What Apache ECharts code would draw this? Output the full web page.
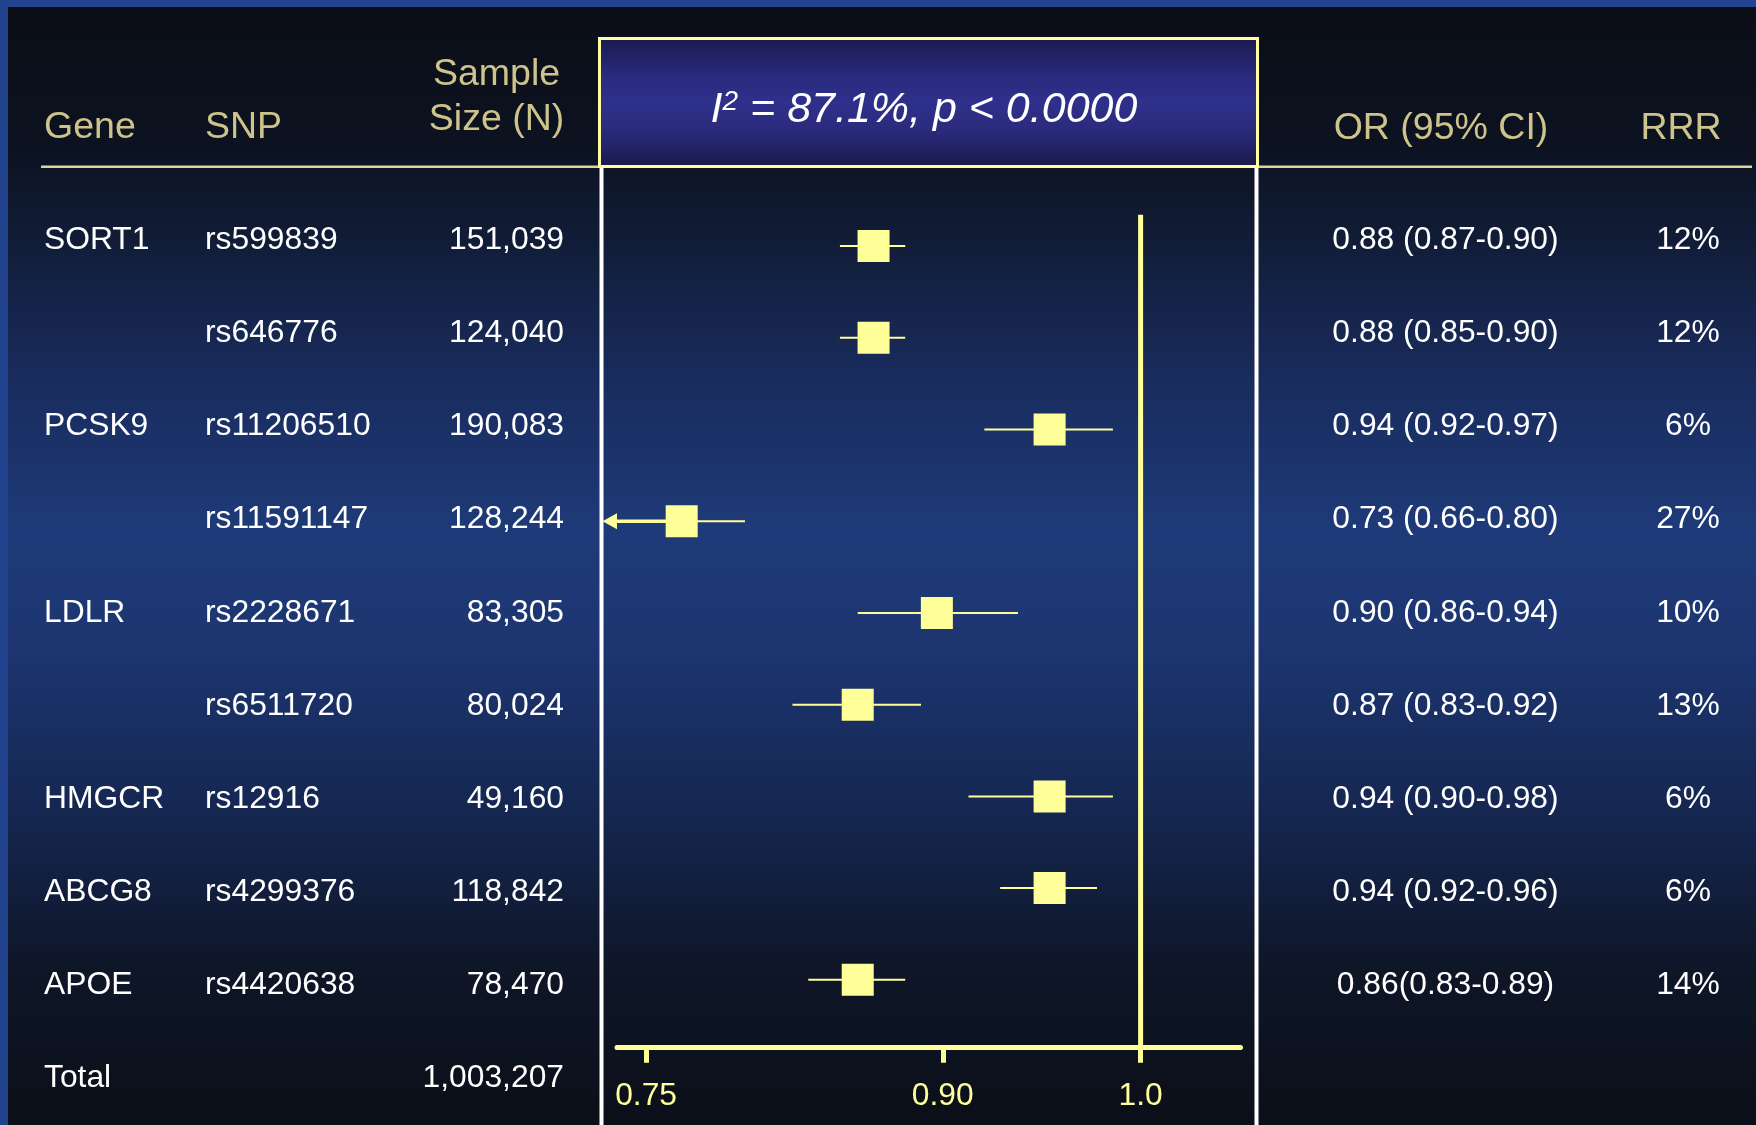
<!DOCTYPE html>
<html>
<head>
<meta charset="utf-8">
<script src="https://cdn.jsdelivr.net/npm/echarts@6/dist/echarts.min.js"></script>
<style>
html,body{margin:0;padding:0;background:#0b0f18;}
#c{width:1756px;height:1125px;}
</style>
</head>
<body>
<div id="c"></div>
<script>
// ---------------- data ----------------
const genes = ['SORT1', '', 'PCSK9', '', 'LDLR', '', 'HMGCR', 'ABCG8', 'APOE', 'Total'];
const snps = ['rs599839', 'rs646776', 'rs11206510', 'rs11591147', 'rs2228671', 'rs6511720', 'rs12916', 'rs4299376', 'rs4420638', ''];
const sampleSizes = [151039, 124040, 190083, 128244, 83305, 80024, 49160, 118842, 78470, 1003207];
const orLabels = ['0.88 (0.87-0.90)', '0.88 (0.85-0.90)', '0.94 (0.92-0.97)', '0.73 (0.66-0.80)', '0.90 (0.86-0.94)',
                  '0.87 (0.83-0.92)', '0.94 (0.90-0.98)', '0.94 (0.92-0.96)', '0.86(0.83-0.89)', ''];
const rrrValues = [12, 12, 6, 27, 10, 13, 6, 6, 14];
// plotted positions of the squares / whiskers
const plotEst  = [0.865, 0.865, 0.954, 0.768, 0.897, 0.857, 0.954, 0.954, 0.857];
const plotLow  = [0.848, 0.848, 0.921, 0.728, 0.857, 0.824, 0.913, 0.929, 0.832];
const plotHigh = [0.881, 0.881, 0.986, 0.800, 0.938, 0.889, 0.986, 0.978, 0.881];
const xTicks = [0.75, 0.90, 1.0];
const xTickLabels = ['0.75', '0.90', '1.0'];
const refValue = 1.0;
const headerTitles = ['Gene', 'SNP', 'Sample', 'Size (N)', 'OR (95% CI)', 'RRR'];
const statText = ' = 87.1%, p < 0.0000';

// ---------------- layout / style ----------------
const FONT = 'Liberation Sans, Arial, sans-serif';
const ROW_TOP = 193.7, ROW_H = 93.66, N_ROWS = 10;     // table rows
const MARK_TOP = 246, MARK_H = 91.73;                   // forest rows (first row centre, spacing)
const AXIS_Y = 1046.8;
const X_MIN = 0.7353, X_MAX = 1.0505;
const Y_MIN = -(MARK_TOP - ROW_TOP) / MARK_H;
const Y_MAX = Y_MIN + (AXIS_Y - ROW_TOP) / MARK_H;
const YEL = '#ffff99';
const TAN = '#cdc38b';
const BODY_FS = 31.8;
const HEAD_FS = 37.5;

const chart = echarts.init(document.getElementById('c'), null, {renderer: 'canvas'});

// table column definitions (anchor x, alignment, text getter)
const columns = [
  {x: 44,    align: 'left',   text: i => genes[i]},
  {x: 205,   align: 'left',   text: i => snps[i]},
  {x: 564,   align: 'right',  text: i => sampleSizes[i].toLocaleString('en-US')},
  {x: 1445.5,align: 'center', text: i => orLabels[i]},
  {x: 1688,  align: 'center', text: i => (i < rrrValues.length ? rrrValues[i] + '%' : '')}
];

const rowIdx = genes.map((_, i) => String(i));

const grids = [{left: 617, top: ROW_TOP, width: 1240.5 - 617, height: AXIS_Y - ROW_TOP}];
const xAxes = [{
  gridIndex: 0, type: 'value', min: X_MIN, max: X_MAX,
  axisLine: {show: true, onZero: false, lineStyle: {color: YEL, width: 5}},
  axisTick: {show: true, customValues: xTicks, length: 16, lineStyle: {color: YEL, width: 5}},
  axisLabel: {show: true, customValues: xTicks, margin: 33, color: YEL, fontSize: BODY_FS, fontFamily: FONT,
              formatter: v => { const k = xTicks.findIndex(t => Math.abs(t - v) < 1e-6); return k >= 0 ? xTickLabels[k] : ''; }},
  splitLine: {show: false}
}];
const yAxes = [{gridIndex: 0, type: 'value', inverse: true, min: Y_MIN, max: Y_MAX, show: false}];

columns.forEach((c, k) => {
  grids.push({left: c.x, top: ROW_TOP, width: 1, height: ROW_H * N_ROWS});
  xAxes.push({gridIndex: k + 1, type: 'value', show: false});
  yAxes.push({
    gridIndex: k + 1, type: 'category', inverse: true, data: rowIdx, position: 'left',
    axisLine: {show: false}, axisTick: {show: false}, splitLine: {show: false},
    axisLabel: {show: true, interval: 0, margin: 0, align: c.align, color: '#ffffff',
                fontSize: BODY_FS, fontFamily: FONT, formatter: (v, i) => c.text(i)}
  });
});

const forestData = plotEst.map((e, i) => [e, plotLow[i], plotHigh[i], i]);

const headText = (t, x, y, align) => ({type: 'text', z: 10, x, y,
  style: {text: t, fill: TAN, fontSize: HEAD_FS, fontFamily: FONT, align, verticalAlign: 'middle'}});

const option = {
  animation: false,
  backgroundColor: 'transparent',
  grid: grids,
  xAxis: xAxes,
  yAxis: yAxes,
  graphic: [
    {type: 'rect', z: -100, shape: {x: 0, y: 0, width: 1756, height: 1125},
     style: {fill: new echarts.graphic.LinearGradient(0, 0, 0, 1, [
       {offset: 0, color: '#0b0e17'}, {offset: 0.13, color: '#0c1220'}, {offset: 0.2, color: '#101b33'},
       {offset: 0.34, color: '#192c5e'}, {offset: 0.47, color: '#1e3a78'}, {offset: 0.57, color: '#1d3672'},
       {offset: 0.72, color: '#152751'}, {offset: 0.86, color: '#0e1628'}, {offset: 1, color: '#0b0f18'}])}},
    {type: 'rect', z: -90, shape: {x: 0, y: 0, width: 1756, height: 7}, style: {fill: '#22438f'}},
    {type: 'rect', z: -90, shape: {x: 0, y: 0, width: 8, height: 1125}, style: {fill: '#21428d'}},
    // header rule
    {type: 'line', z: 5, shape: {x1: 41, y1: 166.7, x2: 1752, y2: 166.7}, style: {stroke: '#dcd5a0', lineWidth: 2.5}},
    // panel white side lines
    {type: 'line', z: 5, shape: {x1: 601.5, y1: 166, x2: 601.5, y2: 1125}, style: {stroke: '#ffffff', lineWidth: 4}},
    {type: 'line', z: 5, shape: {x1: 1256.5, y1: 166, x2: 1256.5, y2: 1125}, style: {stroke: '#ffffff', lineWidth: 4}},
    // stat box
    {type: 'rect', z: 6, shape: {x: 599.5, y: 38.5, width: 658, height: 128},
     style: {stroke: '#ffffa0', lineWidth: 3, fill: new echarts.graphic.LinearGradient(0, 0, 0, 1, [
       {offset: 0, color: '#1b1a4e'}, {offset: 0.3, color: '#2a2a7e'}, {offset: 0.5, color: '#2f308b'},
       {offset: 0.72, color: '#2a2a7c'}, {offset: 1, color: '#19194a'}])}},
    {type: 'text', z: 10, x: 924, y: 110,
     style: {text: '{a|I}{b|2}{a|' + statText + '}', align: 'center', verticalAlign: 'middle',
             rich: {a: {fontSize: 43, fontStyle: 'italic', fontFamily: FONT, fill: '#ffffff'},
                    b: {fontSize: 28, fontStyle: 'italic', fontFamily: FONT, fill: '#ffffff', verticalAlign: 'top'}}}},
    // column headers
    headText(headerTitles[0], 44, 128, 'left'),
    headText(headerTitles[1], 205, 128, 'left'),
    headText(headerTitles[2], 496.5, 75, 'center'),
    headText(headerTitles[3], 496.5, 120, 'center'),
    headText(headerTitles[4], 1441, 129, 'center'),
    headText(headerTitles[5], 1681, 129, 'center')
  ],
  series: [
    {
      type: 'custom', xAxisIndex: 0, yAxisIndex: 0, clip: false, z: 3,
      data: [[refValue, -0.34]],
      renderItem: (params, api) => {
        const p1 = api.coord([api.value(0), api.value(1)]);
        const p2 = api.coord([api.value(0), Y_MAX]);
        return {type: 'line', shape: {x1: p1[0], y1: p1[1], x2: p2[0], y2: p2[1]}, style: {stroke: YEL, lineWidth: 5}};
      }
    },
    {
      type: 'custom', xAxisIndex: 0, yAxisIndex: 0, clip: false, z: 4,
      encode: {x: [0, 1, 2], y: 3},
      data: forestData,
      renderItem: (params, api) => {
        const row = api.value(3);
        const pE = api.coord([api.value(0), row]);
        const pL = api.coord([api.value(1), row]);
        const pH = api.coord([api.value(2), row]);
        const children = [];
        const offLeft = api.value(1) < X_MIN;
        if (offLeft) {
          const base = api.coord([X_MIN, row]);
          children.push({type: 'line', shape: {x1: base[0], y1: pL[1], x2: pE[0], y2: pE[1]}, style: {stroke: YEL, lineWidth: 3.5}});
          children.push({type: 'polygon', shape: {points: [[pL[0], pL[1]], [base[0], pL[1] - 8], [base[0], pL[1] + 8]]}, style: {fill: YEL}});
          children.push({type: 'line', shape: {x1: pE[0], y1: pE[1], x2: pH[0], y2: pH[1]}, style: {stroke: YEL, lineWidth: 2}});
        } else {
          children.push({type: 'line', shape: {x1: pL[0], y1: pL[1], x2: pH[0], y2: pH[1]}, style: {stroke: YEL, lineWidth: 2}});
        }
        children.push({type: 'rect', shape: {x: pE[0] - 16, y: pE[1] - 16, width: 32, height: 32}, style: {fill: YEL}});
        return {type: 'group', children};
      }
    }
  ]
};
chart.setOption(option);
</script>
</body>
</html>
